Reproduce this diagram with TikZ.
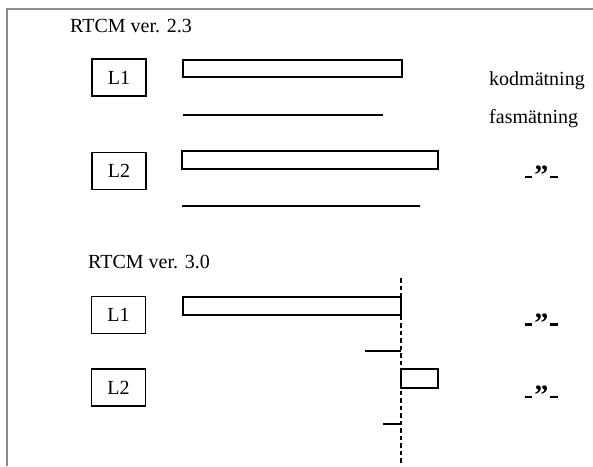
\documentclass[tikz,border=0pt]{standalone}
\usepackage{fontspec}
\setmainfont{Liberation Serif}
% ditto mark: two short heavy dashes around a bold closing quote
\newcommand{\dittomark}{%
  \rule[2.8pt]{7pt}{2.6pt}\kern2.5pt%
  \raisebox{-3.5pt}{\fontsize{28}{32}\selectfont\bfseries ”}%
  \kern2pt\rule[2.8pt]{8pt}{2.6pt}}
\begin{document}
\begin{tikzpicture}[x=1pt,y=-1pt,
  every node/.style={font=\fontsize{20}{24}\selectfont, inner sep=0pt},
  framestroke/.style={draw=black!45, line width=1.6pt},
  sigbox/.style={draw, line width=1.2pt, minimum width=54pt, minimum height=37pt},
  bar/.style={draw, line width=1.4pt},
  wire/.style={line width=1.4pt},
  ditto/.style={anchor=base}]
\useasboundingbox (0,0) rectangle (593,466);
% open frame: top and left edges only
\draw[framestroke] (593,9) -- (7,9) -- (7,466);

% ---- RTCM 2.3 ----
\node[anchor=base west] (v23) at (70,32) {RTCM ver. 2.3};
\node[sigbox] (a1) at (119,77.5) {L1};
\node[sigbox] (a2) at (119,171) {L2};
\draw[bar] (183,60) rectangle (402,77);
\draw[wire] (183,115) -- (383,115);
\draw[bar] (182,151) rectangle (438,169);
\draw[wire] (182,206) -- (420,206);
\node[anchor=base west] (kod) at (489,85) {kodmätning};
\node[anchor=base west] (fas) at (489,123) {fasmätning};
\node[ditto] (d1) at (541.5,181) {\dittomark};

% ---- RTCM 3.0 ----
\node[anchor=base west] (v30) at (88,268) {RTCM ver. 3.0};
\node[sigbox] (b1) at (118.5,315) {L1};
\node[sigbox] (b2) at (118.5,387.5) {L2};
\coordinate (ttop) at (401,278);
\coordinate (tbot) at (401,463);
\draw[line width=1.8pt, dash pattern=on 4.5pt off 3pt] (ttop) -- (tbot);
\draw[bar] (183,297) rectangle (401,315);
\draw[wire] (365,351) -- (401,351);
\draw[bar] (401,369) rectangle (438,388);
\draw[wire] (383,424) -- (401,424);
\node[ditto] (d2) at (541.5,328.5) {\dittomark};
\node[ditto] (d3) at (541.5,401) {\dittomark};
\end{tikzpicture}
\end{document}
